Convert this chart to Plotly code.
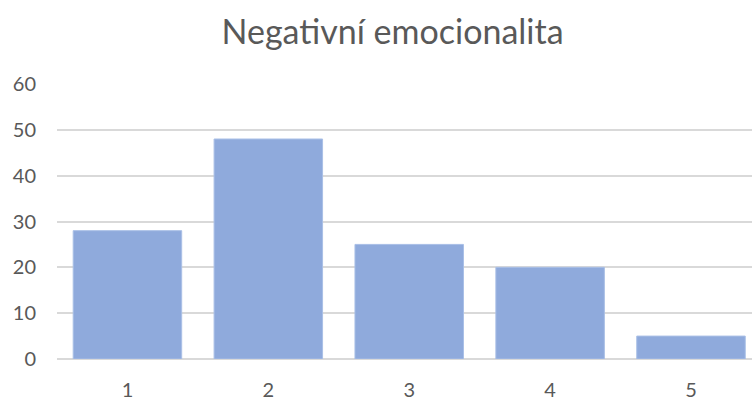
import plotly.graph_objects as go

categories = ["1", "2", "3", "4", "5"]
counts = [28, 48, 25, 20, 5]
y_ticks = [0, 10, 20, 30, 40, 50, 60]

fig = go.Figure(
    go.Bar(
        x=[1, 2, 3, 4, 5],
        y=counts,
        marker=dict(color="#8FAADC", line=dict(color="#A9BFE6", width=1)),
        hoverinfo="x+y",
    )
)

fig.update_layout(
    width=752,
    height=401,
    margin=dict(l=57, r=0, t=84, b=42),
    paper_bgcolor="white",
    plot_bgcolor="white",
    bargap=0.23,
    showlegend=False,
    title=dict(
        text="Negativní emocionalita",
        x=0.522,
        xanchor="center",
        y=0.92,
        yanchor="middle",
        font=dict(family="Lato", size=34, color="#595959"),
    ),
    font=dict(family="Lato", color="#595959"),
)

fig.update_xaxes(
    range=[0.5, 5.433],
    tickvals=[1, 2, 3, 4, 5],
    ticktext=categories,
    showgrid=False,
    zeroline=False,
    showline=False,
    ticks="",
    automargin=False,
    ticklabelstandoff=17,
    tickfont=dict(size=20, color="#595959"),
)

fig.update_yaxes(
    range=[0, 60],
    tickvals=y_ticks,
    showgrid=True,
    gridcolor="#D9D9D9",
    gridwidth=1.5,
    zeroline=True,
    zerolinecolor="#D9D9D9",
    zerolinewidth=1.5,
    ticks="",
    automargin=False,
    ticklabelstandoff=20,
    tickfont=dict(size=20, color="#595959"),
)

fig.write_html("out.html")
